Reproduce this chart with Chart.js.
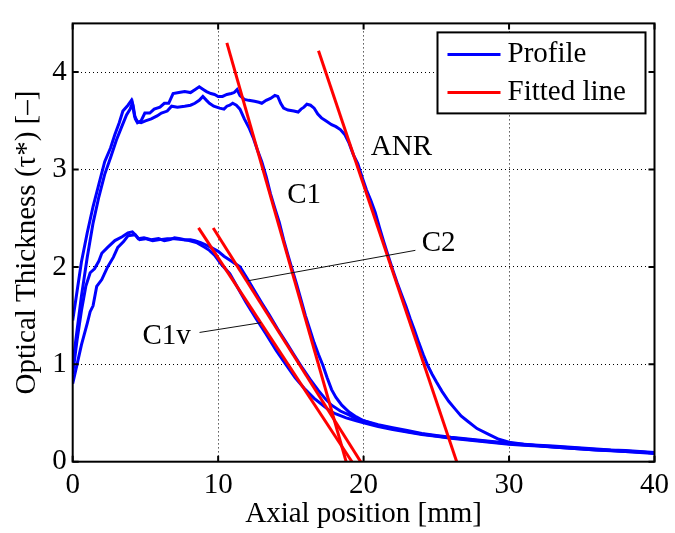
<!DOCTYPE html>
<html>
<head>
<meta charset="utf-8">
<script src="https://cdn.jsdelivr.net/npm/chart.js@4.4.0/dist/chart.umd.min.js"></script>
<style>
html,body{margin:0;padding:0;background:#fff;}
</style>
</head>
<body>
<canvas id="profileChart" width="675" height="533"></canvas>
<script>
// profiles (axial position mm / optical thickness)
var anrX=[0,0.3,0.6,1.0,1.4,1.8,2.2,2.6,2.9,3.2,3.45,3.8,4.04,4.15,4.3,4.45,4.7,4.96,5.3,5.6,6.0,6.3,6.6,6.9,7.3,7.7,8.1,8.4,8.7,9.0,9.2,9.5,9.75,10.0,10.3,10.6,10.9,11.1,11.3,11.5,11.8,12.1,12.5,12.8,13.0,13.3,13.6,13.9,14.1,14.3,14.5,14.8,15.2,15.5,15.7,15.9,16.1,16.35,16.6,16.85,17.1,17.4,17.8,18.1,18.4,18.7,19.0,19.3,19.6,19.9,20.2,20.5,20.8,21.1,21.4,21.7,22.0,22.3,22.6,22.9,23.2,23.5,23.8,24.1,24.4,24.7,25.0,25.4,25.85,26.3,26.7,27.2,27.8,28.6,29.3,30,31,32,33,34,35,36,37,38,39,40];
var anrY=[1.45,1.75,2.05,2.35,2.62,2.85,3.08,3.22,3.36,3.48,3.6,3.66,3.71,3.66,3.52,3.48,3.5,3.58,3.58,3.62,3.64,3.68,3.68,3.78,3.79,3.80,3.79,3.82,3.85,3.82,3.80,3.78,3.77,3.75,3.75,3.77,3.78,3.79,3.82,3.76,3.72,3.71,3.70,3.69,3.68,3.71,3.73,3.76,3.75,3.68,3.63,3.61,3.60,3.59,3.62,3.64,3.67,3.66,3.63,3.57,3.53,3.50,3.46,3.44,3.41,3.36,3.27,3.15,3.06,2.92,2.79,2.68,2.56,2.40,2.25,2.11,1.97,1.84,1.72,1.60,1.47,1.35,1.22,1.10,0.99,0.90,0.82,0.72,0.62,0.54,0.47,0.41,0.34,0.28,0.23,0.20,0.18,0.165,0.15,0.14,0.13,0.12,0.115,0.105,0.1,0.09];

var c1X=[0,0.3,0.6,1.0,1.4,1.8,2.2,2.6,3.0,3.4,3.7,3.95,4.1,4.25,4.45,4.7,5.0,5.4,5.8,6.1,6.5,6.8,7.2,7.7,8.1,8.4,8.7,8.95,9.2,9.4,9.7,10.1,10.4,10.6,10.8,11.0,11.25,11.5,11.8,12.15,12.4,12.7,13.0,13.3,13.6,13.9,14.2,14.5,14.8,15.1,15.4,15.7,16.0,16.3,16.6,16.9,17.2,17.5,17.8,18.1,18.5,19.0,19.5,20.0];
var c1Y=[1.0,1.35,1.7,2.1,2.45,2.72,2.95,3.12,3.30,3.45,3.56,3.62,3.68,3.55,3.49,3.48,3.50,3.52,3.55,3.58,3.60,3.65,3.64,3.65,3.66,3.68,3.71,3.75,3.71,3.68,3.65,3.63,3.62,3.65,3.66,3.68,3.66,3.62,3.52,3.42,3.33,3.20,3.08,2.93,2.75,2.60,2.46,2.28,2.12,1.97,1.82,1.66,1.50,1.36,1.22,1.10,0.99,0.86,0.74,0.66,0.58,0.51,0.46,0.42];

var c2X=[0,0.3,0.6,0.9,1.2,1.5,1.8,2.0,2.4,2.9,3.4,3.8,4.1,4.3,4.5,4.9,5.4,5.9,6.3,6.7,7.0,7.4,7.7,8.1,8.4,8.8,9.1,9.5,10.0,10.4,10.9,11.5,12.0,12.6,13.0,13.5,14.1,14.7,15.2,15.8,16.3,16.9,17.4,17.8,18.4,19.0,19.5,20.0];
var c2Y=[0.9,1.25,1.55,1.8,1.94,1.98,2.06,2.14,2.2,2.27,2.31,2.35,2.36,2.33,2.29,2.30,2.28,2.29,2.27,2.28,2.30,2.29,2.28,2.28,2.27,2.25,2.23,2.20,2.16,2.11,2.06,2.0,1.88,1.73,1.63,1.51,1.36,1.22,1.10,0.96,0.85,0.73,0.64,0.58,0.52,0.48,0.44,0.42];

var c1vX=[0,0.3,0.6,1.0,1.2,1.4,1.65,2.0,2.4,2.8,3.1,3.5,3.8,4.3,4.6,5.0,5.5,6.0,6.5,7.0,7.5,8.0,8.5,9.1,9.4,9.75,10.2,10.8,11.3,11.9,12.6,13.3,14.0,14.7,15.3,16.0,16.6,17.2,17.7,18.1,18.8,19.5,20.0];
var c1vY=[0.8,1.0,1.2,1.42,1.54,1.6,1.8,1.87,2.0,2.1,2.2,2.26,2.32,2.33,2.28,2.29,2.27,2.28,2.29,2.29,2.28,2.27,2.25,2.2,2.17,2.12,2.03,1.93,1.80,1.64,1.47,1.31,1.14,0.99,0.86,0.74,0.65,0.58,0.52,0.49,0.45,0.42,0.40];

// common tail of the three short profiles
var tailX=[21,22,23,24,25,26,27,28,29,30,31,32,33,34,35,36,37,38,39,40];
var c1TailY=[0.38,0.35,0.32,0.29,0.27,0.25,0.235,0.22,0.205,0.19,0.18,0.17,0.16,0.15,0.14,0.13,0.12,0.115,0.105,0.095];
var c2TailY=[0.37,0.34,0.31,0.285,0.265,0.245,0.23,0.215,0.2,0.185,0.175,0.165,0.155,0.145,0.135,0.125,0.118,0.11,0.1,0.09];
var c1vTailY=[0.36,0.33,0.305,0.28,0.26,0.24,0.225,0.21,0.195,0.18,0.17,0.16,0.15,0.14,0.13,0.12,0.112,0.105,0.095,0.085];

// fitted lines (end points)
var fitAnrX=[16.9,26.4], fitAnrY=[4.22,0];
var fitC1X=[10.6,18.8], fitC1Y=[4.30,0];
var fitC2X=[9.66,19.8], fitC2Y=[2.40,0];
var fitC1vX=[8.65,19.2], fitC1vY=[2.40,0];

// axis ticks
var xTicks=[0,10,20,30,40];
var yTicks=[0,1,2,3,4];

// text notes and leader lines
var noteText=['ANR','C1','C2','C1v'];
var noteX=[20.5,14.75,24.0,4.8];
var noteY=[3.23,2.73,2.24,1.29];
var leaderX=[[23.56,12.03],[8.72,12.94]];
var leaderY=[[2.17,1.857],[1.327,1.427]];

var legendText=['Profile','Fitted line'];
var legendColor=['#0000ff','#ff0000'];

var serif='"Liberation Serif", "Times New Roman", serif';

function fnPts(xs,ys){
	var out=[];
	for(var i=0;i<xs.length;i++) out.push({x:xs[i],y:ys[i]});
	return out;
}
function fnProfile(pts){
	return {label:'Profile',data:pts,borderColor:'#0000ff',borderWidth:3,pointRadius:0,tension:0,fill:false,order:2};
}
function fnFit(pts){
	return {label:'Fitted line',data:pts,borderColor:'#ff0000',borderWidth:3,pointRadius:0,tension:0,fill:false,order:1};
}

var decoPlugin={
	id:'deco',
	afterDatasetsDraw:function(chart){
		var ctx=chart.ctx, a=chart.chartArea, sx=chart.scales.x, sy=chart.scales.y;
		ctx.save();
		//leader lines
		ctx.strokeStyle='#111';
		ctx.lineWidth=1;
		for(var i=0;i<leaderX.length;i++){
			ctx.beginPath();
			ctx.moveTo(sx.getPixelForValue(leaderX[i][0]),sy.getPixelForValue(leaderY[i][0]));
			ctx.lineTo(sx.getPixelForValue(leaderX[i][1]),sy.getPixelForValue(leaderY[i][1]));
			ctx.stroke();
		}
		//notes
		ctx.fillStyle='#000';
		ctx.font='29px '+serif;
		ctx.textAlign='left';
		ctx.textBaseline='middle';
		for(var j=0;j<noteText.length;j++){
			ctx.fillText(noteText[j],sx.getPixelForValue(noteX[j]),sy.getPixelForValue(noteY[j]));
		}
		//frame and inward ticks
		ctx.strokeStyle='#000';
		ctx.lineWidth=2;
		ctx.strokeRect(a.left,a.top,a.right-a.left,a.bottom-a.top);
		ctx.beginPath();
		for(var k=0;k<xTicks.length;k++){
			var px=sx.getPixelForValue(xTicks[k]);
			ctx.moveTo(px,a.bottom);ctx.lineTo(px,a.bottom-6);
			ctx.moveTo(px,a.top);ctx.lineTo(px,a.top+6);
		}
		for(var m=0;m<yTicks.length;m++){
			var py=sy.getPixelForValue(yTicks[m]);
			ctx.moveTo(a.left,py);ctx.lineTo(a.left+6,py);
			ctx.moveTo(a.right,py);ctx.lineTo(a.right-6,py);
		}
		ctx.stroke();
		//legend box
		var bw=208, bh=81, bx=a.right-9-bw, by=a.top+9;
		ctx.fillStyle='#fff';
		ctx.fillRect(bx,by,bw,bh);
		ctx.lineWidth=2;
		ctx.strokeRect(bx,by,bw,bh);
		for(var n=0;n<legendText.length;n++){
			var ly=by+22+n*38;
			ctx.strokeStyle=legendColor[n];
			ctx.lineWidth=3;
			ctx.beginPath();
			ctx.moveTo(bx+10,ly);ctx.lineTo(bx+63,ly);
			ctx.stroke();
			ctx.fillStyle='#000';
			ctx.fillText(legendText[n],bx+70,ly);
		}
		ctx.restore();
	}
};

var ctx=document.getElementById('profileChart').getContext('2d');
var profileChart=new Chart(ctx,{
	type:'line',
	data:{
		datasets:[
			fnFit(fnPts(fitAnrX,fitAnrY)),
			fnFit(fnPts(fitC1X,fitC1Y)),
			fnFit(fnPts(fitC2X,fitC2Y)),
			fnFit(fnPts(fitC1vX,fitC1vY)),
			fnProfile(fnPts(anrX,anrY)),
			fnProfile(fnPts(c1X.concat(tailX),c1Y.concat(c1TailY))),
			fnProfile(fnPts(c2X.concat(tailX),c2Y.concat(c2TailY))),
			fnProfile(fnPts(c1vX.concat(tailX),c1vY.concat(c1vTailY)))
		]
	},
	options:{
		responsive:false,
		animation:false,
		events:[],
		layout:{padding:{left:0,top:9.3,right:18.3,bottom:0}},
		plugins:{legend:{display:false},tooltip:{enabled:false}},
		scales:{
			x:{
				type:'linear',min:0,max:40,
				afterFit:function(s){s.height=71.3;},
				ticks:{stepSize:10,padding:6,color:'#000',font:{family:serif,size:29},maxRotation:0},
				grid:{color:'#000',lineWidth:1,drawTicks:false},
				border:{display:false,dash:[1,3]},
				title:{display:true,text:'Axial position [mm]',color:'#000',font:{family:serif,size:29},padding:{top:0,bottom:1}}
			},
			y:{
				type:'linear',min:0,max:4.5,
				afterFit:function(s){s.width=72.7;},
				ticks:{stepSize:1,includeBounds:false,padding:6,color:'#000',font:{family:serif,size:29}},
				grid:{color:'#000',lineWidth:1,drawTicks:false},
				border:{display:false,dash:[1,3]},
				title:{display:true,text:'Optical Thickness (\u03c4*) [\u2013]',color:'#000',font:{family:serif,size:29},padding:{top:10,bottom:0}}
			}
		}
	},
	plugins:[decoPlugin]
});
</script>
</body>
</html>
